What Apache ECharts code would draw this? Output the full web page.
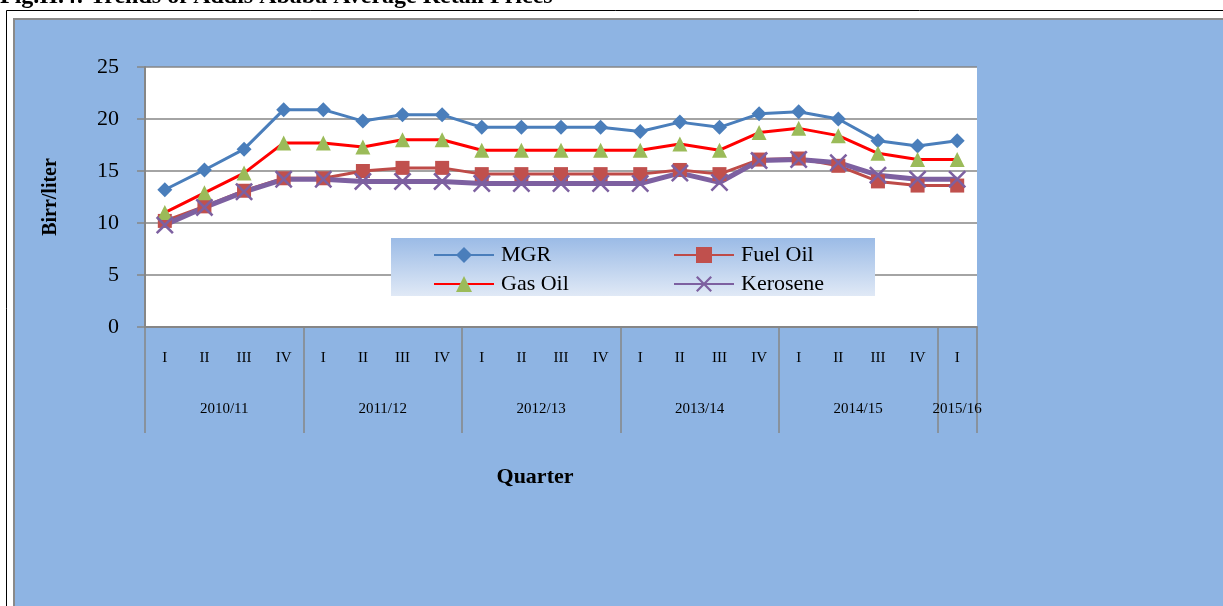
<!DOCTYPE html>
<html>
<head>
<meta charset="utf-8">
<script src="https://cdn.jsdelivr.net/npm/echarts@6/dist/echarts.min.js"></script>
<style>
  html, body { margin: 0; padding: 0; background: #fff; }
  #chart { width: 1223px; height: 606px; }
</style>
</head>
<body>
<div id="chart"></div>
<script>
// quarters and fiscal years
var quarters = ['I','II','III','IV','I','II','III','IV','I','II','III','IV','I','II','III','IV','I','II','III','IV','I'];
var yearLabels = ['2010/11','2011/12','2012/13','2013/14','2014/15','2015/16'];
var yearCenters = [2, 6, 10, 14, 18, 20.5];
var yearBounds = [0, 4, 8, 12, 16, 20, 21];

// prices, Birr/liter
var mgr      = [13.2,15.1,17.1,20.9,20.9,19.8,20.4,20.4,19.2,19.2,19.2,19.2,18.8,19.7,19.2,20.5,20.7,20.0,17.9,17.4,17.9];
var fuelOil  = [10.2,11.6,13.1,14.3,14.3,15.0,15.3,15.3,14.7,14.7,14.7,14.7,14.7,15.1,14.7,16.1,16.2,15.5,14.0,13.6,13.6];
var gasOil   = [11.0,12.9,14.8,17.7,17.7,17.3,18.0,18.0,17.0,17.0,17.0,17.0,17.0,17.6,17.0,18.7,19.1,18.4,16.7,16.1,16.1];
var kerosene = [9.8,11.5,13.0,14.2,14.2,14.0,14.0,14.0,13.8,13.8,13.8,13.8,13.8,14.8,13.9,16.0,16.1,15.8,14.6,14.2,14.2];

var serif = '"Liberation Serif", "Times New Roman", serif';
var gray = '#868686';
var crossPath = 'path://M0,1 L1,0 L5,4 L9,0 L10,1 L6,5 L10,9 L9,10 L5,6 L1,10 L0,9 L4,5 Z';

var chart = echarts.init(document.getElementById('chart'));

var legendText = { fontFamily: serif, fontSize: 22, color: '#000', padding: [0, 0, 0, 2] };

var option = {
  animation: false,
  textStyle: { fontFamily: serif, color: '#000' },
  title: {
    text: 'Fig.II.4: Trends of Addis Ababa Average Retail Prices',
    left: 0,
    top: -15,
    padding: 0,
    textStyle: { fontFamily: serif, fontSize: 24, fontWeight: 'bold', color: '#000' }
  },
  graphic: [
    { type: 'rect', z: -10, shape: { x: 6.5, y: 10.5, width: 1230, height: 610 },
      style: { fill: '#fff', stroke: '#000', lineWidth: 1 } },
    { type: 'rect', z: -9, shape: { x: 14, y: 19, width: 1220, height: 590 },
      style: { fill: '#8eb4e3', stroke: '#8a8a8a', lineWidth: 2 } },
    // legend box
    { type: 'rect', z: 3, shape: { x: 391, y: 238, width: 484, height: 58 },
      style: {
        fill: new echarts.graphic.LinearGradient(0, 0, 0, 1, [
          { offset: 0, color: '#9bbbe6' },
          { offset: 1, color: '#e0e9f6' }
        ])
      } }
  ],
  grid: {
    left: 145, right: 246, top: 67, bottom: 279,
    show: true, backgroundColor: '#fff', borderWidth: 0
  },
  legend: [
    {
      orient: 'vertical',
      left: 433, top: 238,
      padding: [6, 0, 0, 0],
      itemGap: 7,
      itemWidth: 60, itemHeight: 20,
      data: ['MGR', 'Gas Oil'],
      lineStyle: { width: 2 },
      textStyle: legendText,
      z: 4
    },
    {
      orient: 'vertical',
      left: 673, top: 238,
      padding: [6, 0, 0, 0],
      itemGap: 7,
      itemWidth: 60, itemHeight: 20,
      data: ['Fuel Oil', 'Kerosene'],
      lineStyle: { width: 2 },
      textStyle: legendText,
      z: 4
    }
  ],
  xAxis: [
    {
      type: 'category',
      data: quarters,
      position: 'bottom',
      axisLine: { lineStyle: { color: gray, width: 2 } },
      axisTick: { interval: 0, length: 53, lineStyle: { color: gray, width: 1.5 } },
      axisLabel: { interval: 0, margin: 24, fontFamily: serif, fontSize: 15, color: '#000' },
      splitLine: { show: false }
    },
    {
      type: 'value',
      min: 0, max: 21,
      position: 'bottom',
      name: 'Quarter',
      nameLocation: 'middle',
      nameGap: 139,
      nameTextStyle: { fontFamily: serif, fontSize: 22, fontWeight: 'bold', color: '#000', padding: [0, 52, 0, 0] },
      axisLine: { show: false },
      axisTick: { show: true, customValues: yearBounds, length: 106, lineStyle: { color: gray, width: 1.5 } },
      axisLabel: {
        customValues: yearCenters,
        margin: 75,
        fontFamily: serif, fontSize: 15, color: '#000',
        formatter: function (v) {
          var i = yearCenters.indexOf(v);
          return i >= 0 ? yearLabels[i] : '';
        }
      },
      splitLine: { show: false }
    }
  ],
  yAxis: {
    type: 'value',
    min: 0, max: 25, interval: 5,
    name: 'Birr/liter',
    nameLocation: 'middle',
    nameGap: 84,
    nameRotate: 90,
    nameTextStyle: { fontFamily: serif, fontSize: 20, fontWeight: 'bold', color: '#000' },
    axisLine: { show: true, lineStyle: { color: gray, width: 2 } },
    axisTick: { show: true, length: 8, lineStyle: { color: gray, width: 1.5 } },
    axisLabel: { margin: 26, fontFamily: serif, fontSize: 22, color: '#000' },
    splitLine: { lineStyle: { color: gray, width: 1.5 } }
  },
  series: [
    {
      name: 'MGR', type: 'line', data: mgr,
      symbol: 'diamond', symbolSize: 15,
      lineStyle: { color: '#4a7ebb', width: 3 },
      itemStyle: { color: '#4a7ebb' }
    },
    {
      name: 'Fuel Oil', type: 'line', data: fuelOil,
      symbol: 'rect', symbolSize: 14,
      lineStyle: { color: '#be4b48', width: 3 },
      itemStyle: { color: '#c0504d' }
    },
    {
      name: 'Gas Oil', type: 'line', data: gasOil,
      symbol: 'triangle', symbolSize: 15,
      lineStyle: { color: '#ff0000', width: 3 },
      itemStyle: { color: '#9bbb59' }
    },
    {
      name: 'Kerosene', type: 'line', data: kerosene,
      symbol: crossPath, symbolSize: 18,
      lineStyle: { color: '#7d60a0', width: 5 },
      itemStyle: { color: '#7d60a0' }
    }
  ]
};

chart.setOption(option);
</script>
</body>
</html>
